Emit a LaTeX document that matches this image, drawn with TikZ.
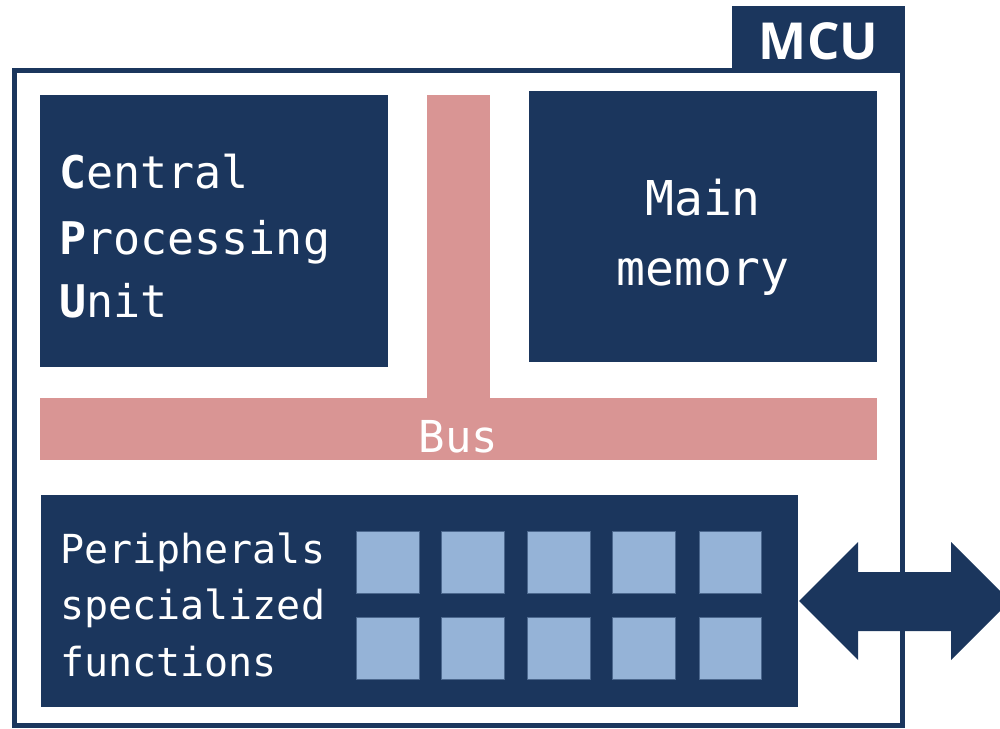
\documentclass[tikz,border=0pt]{standalone}
\usepackage{fontspec}
\setmonofont{DejaVu Sans Mono}
\newfontfamily\tabfont{Open Sans}
\definecolor{navy}{RGB}{27,54,93}
\definecolor{busred}{RGB}{217,149,148}
\definecolor{lightblue}{RGB}{149,179,215}
\begin{document}
\begin{tikzpicture}[x=1pt,y=-1pt,
  block/.style={fill=navy,draw=none,inner sep=0pt,outer sep=0pt},
  busbar/.style={fill=busred,draw=none,inner sep=0pt,outer sep=0pt},
  cell/.style={fill=lightblue,draw=navy!60!lightblue,line width=0.8pt,inner sep=0pt,outer sep=0pt,minimum width=62.5pt,minimum height=62pt},
  txt/.style={text=white,inner sep=0pt,font=\ttfamily},
]
\useasboundingbox (0,0) rectangle (1000,728);
\clip (0,0) rectangle (1000,728);
% MCU tab
\node[block,anchor=north west,minimum width=173pt,minimum height=64pt] (tab) at (732,6) {};
\node[text=white,inner sep=0pt,anchor=base,font=\tabfont\bfseries\fontsize{51}{60}\selectfont] (mcu) at (818.5,59) {MCU};
% frame
\node[draw=navy,line width=5pt,inner sep=0pt,outer sep=0pt,anchor=north west,minimum width=888pt,minimum height=655pt] (frame) at (14.5,70.5) {};
% CPU
\node[block,minimum width=348pt,minimum height=272pt] (cpu) at (214,231) {};
\node[txt,anchor=base west,font=\ttfamily\fontsize{45}{65}\selectfont] (cpu1) at (59,188) {\textbf{C}entral};
\node[txt,anchor=base west,font=\ttfamily\fontsize{45}{65}\selectfont] (cpu2) at (59,254) {\textbf{P}rocessing};
\node[txt,anchor=base west,font=\ttfamily\fontsize{45}{65}\selectfont] (cpu3) at (59,317) {\textbf{U}nit};
% Main memory
\node[block,minimum width=348pt,minimum height=271pt] (mem) at (703,226.5) {};
\node[txt,anchor=base,font=\ttfamily\fontsize{48}{70}\selectfont] (mem1) at (703,215) {Main};
\node[txt,anchor=base,font=\ttfamily\fontsize{48}{70}\selectfont] (mem2) at (703,285) {memory};
% Bus
\node[busbar,minimum width=63pt,minimum height=305pt] (busv) at (458.5,247.5) {};
\node[busbar,minimum width=837pt,minimum height=62pt] (bush) at (458.5,429) {};
\node[txt,anchor=base,font=\ttfamily\fontsize{44}{60}\selectfont] (bus) at (458.5,452) {Bus};
% Peripherals
\node[block,minimum width=757pt,minimum height=212pt] (per) at (419.5,601) {};
\node[txt,anchor=base west,font=\ttfamily\fontsize{40}{56}\selectfont] (per1) at (60,563) {Peripherals};
\node[txt,anchor=base west,font=\ttfamily\fontsize{40}{56}\selectfont] (per2) at (60,619) {specialized};
\node[txt,anchor=base west,font=\ttfamily\fontsize{40}{56}\selectfont] (per3) at (60,676) {functions};
\foreach \i/\cx in {1/387.8,2/472.7,3/559,4/643.7,5/730.3}{
  \node[cell] (ca\i) at (\cx,562) {};
  \node[cell] (cb\i) at (\cx,648.5) {};
}
% double arrow
\fill[navy] (per.east) ++(1,0) coordinate (atip)
  -- ++(59,-59) -- ++(0,30) -- ++(93,0) -- ++(0,-30) -- ++(59,59)
  -- ++(-59,59) -- ++(0,-29) -- ++(-93,0) -- ++(0,29) -- cycle;
\draw[navy,line width=5pt] (frame.north east) -- (frame.south east);
\end{tikzpicture}
\end{document}
